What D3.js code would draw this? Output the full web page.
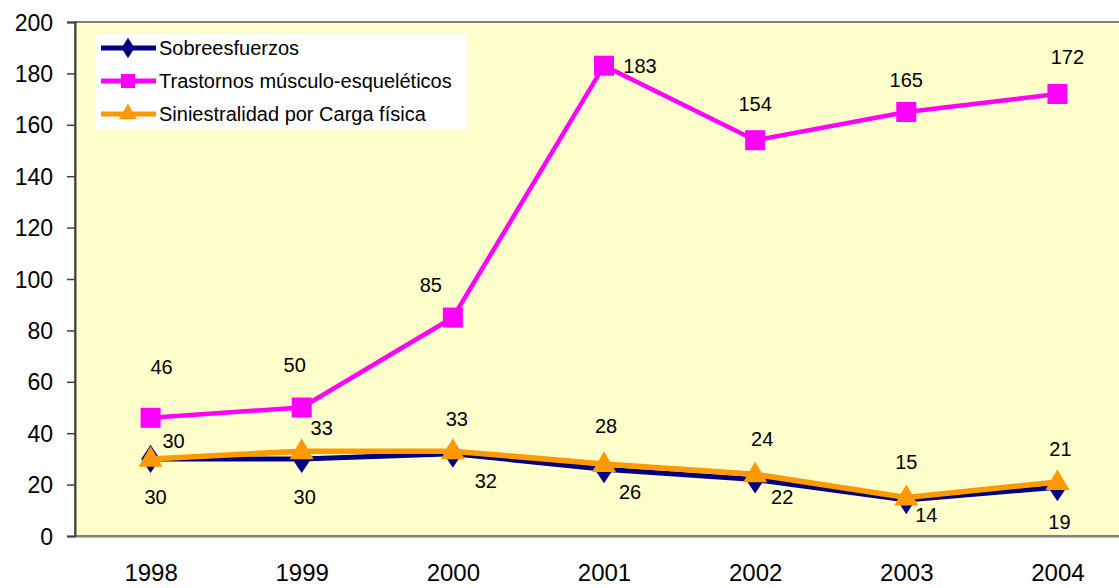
<!DOCTYPE html>
<html><head><meta charset="utf-8">
<script src="https://cdn.jsdelivr.net/npm/d3@7"></script>
<style>
html,body{margin:0;padding:0;background:#fff;}
svg{display:block;font-family:"Liberation Sans",Arial,sans-serif;}
</style></head>
<body><svg id="c" width="1119" height="588"></svg>
<script>
const years = ["1998","1999","2000","2001","2002","2003","2004"];
const sobreesfuerzos = [30,30,32,26,22,14,19];
const trastornos = [46,50,85,183,154,165,172];
const siniestralidad = [30,33,33,28,24,15,21];
const yTicks = [0,20,40,60,80,100,120,140,160,180,200];
const seriesNames = ["Sobreesfuerzos","Trastornos músculo-esqueléticos","Siniestralidad por Carga física"];
// label offsets (style) per series
const offSobre = [[5,38],[3,38],[33,27],[26,23],[27,18],[20,15],[2,35]];
const offTras = [[11,-51],[-7,-43],[-22,-33],[36,0],[0,-36],[0,-32],[10,-37]];
const offSini = [[23,-18],[20,-23],[4,-32],[2,-38],[7,-35],[0,-35],[3,-33]];

const svg = d3.select("#c");
const L = 75, R = 1133, T = 22, B = 536;
const x = d3.scalePoint().domain(years).range([L, R]).padding(0.5);
const y = d3.scaleLinear().domain([0,200]).range([B, T]);

svg.append("rect").attr("x",L).attr("y",T).attr("width",R-L).attr("height",B-T)
  .attr("fill","#FFFFCC").attr("stroke","#808080").attr("stroke-width",2);

// y axis
const ya = svg.append("g").attr("transform",`translate(${L},0)`)
  .call(d3.axisLeft(y).tickValues(yTicks).tickSize(8).tickPadding(14));
ya.select(".domain").attr("stroke","#404040").attr("stroke-width",2);
ya.selectAll(".tick line").attr("stroke","#404040").attr("stroke-width",1.5);
ya.selectAll("text").attr("font-size",23).attr("fill","#000").attr("font-family","Liberation Sans, Arial, sans-serif").attr("dy","0.35em");

// x axis
const xa = svg.append("g").attr("transform",`translate(0,${B})`)
  .call(d3.axisBottom(x).tickSize(0).tickPadding(28));
xa.select(".domain").attr("stroke","#808080").attr("stroke-width",2);
xa.selectAll("text").attr("font-size",24).attr("fill","#000").attr("font-family","Liberation Sans, Arial, sans-serif");

const line = d3.line().x((d,i)=>x(years[i])).y(d=>y(d));

// Sobreesfuerzos
svg.append("path").datum(sobreesfuerzos).attr("d",line).attr("fill","none").attr("stroke","#000080").attr("stroke-width",5);
svg.selectAll(".dia").data(sobreesfuerzos).enter().append("path")
  .attr("d",d3.symbol(d3.symbolDiamond,230)())
  .attr("transform",(d,i)=>`translate(${x(years[i])},${y(d)}) scale(1.15,1)`)
  .attr("fill","#000080");
// Siniestralidad
svg.append("path").datum(siniestralidad).attr("d",line).attr("fill","none").attr("stroke","#FF9900").attr("stroke-width",5.5);
svg.selectAll(".tri").data(siniestralidad).enter().append("path")
  .attr("d",d3.symbol(d3.symbolTriangle,250)())
  .attr("transform",(d,i)=>`translate(${x(years[i])},${y(d)+1})`)
  .attr("fill","#FF9900");
// Trastornos
svg.append("path").datum(trastornos).attr("d",line).attr("fill","none").attr("stroke","#FF00FF").attr("stroke-width",4.5);
svg.selectAll(".sq").data(trastornos).enter().append("rect")
  .attr("x",(d,i)=>x(years[i])-10).attr("y",d=>y(d)-10).attr("width",20).attr("height",20)
  .attr("fill","#FF00FF");

function labels(vals, offs){
  svg.append("g").selectAll("text").data(vals).enter().append("text")
    .attr("x",(d,i)=>x(years[i])+offs[i][0]).attr("y",(d,i)=>y(d)+offs[i][1])
    .attr("text-anchor","middle").attr("dy","0.35em").attr("font-size",20).attr("fill","#000")
    .text(d=>d);
}
labels(trastornos, offTras);
labels(sobreesfuerzos, offSobre);
labels(siniestralidad, offSini);

// legend
const lg = svg.append("g");
lg.append("rect").attr("x",95).attr("y",33).attr("width",372).attr("height",96).attr("fill","#fff");
const lcols = ["#000080","#FF00FF","#FF9900"];
seriesNames.forEach((n,i)=>{
  const yy = 48 + i*33;
  lg.append("line").attr("x1",101).attr("x2",156).attr("y1",yy).attr("y2",yy).attr("stroke",lcols[i]).attr("stroke-width",5);
  let m;
  if(i===0) m = lg.append("path").attr("d",d3.symbol(d3.symbolDiamond,120)()).attr("transform",`translate(128,${yy}) scale(1.1,1)`);
  else if(i===1) m = lg.append("rect").attr("x",121).attr("y",yy-7).attr("width",14).attr("height",14);
  else m = lg.append("path").attr("d",d3.symbol(d3.symbolTriangle,140)()).attr("transform",`translate(128,${yy})`);
  m.attr("fill",lcols[i]);
  lg.append("text").attr("x",159).attr("y",yy).attr("dy","0.35em").attr("font-size",20).attr("fill","#000").text(n);
});
</script></body></html>
